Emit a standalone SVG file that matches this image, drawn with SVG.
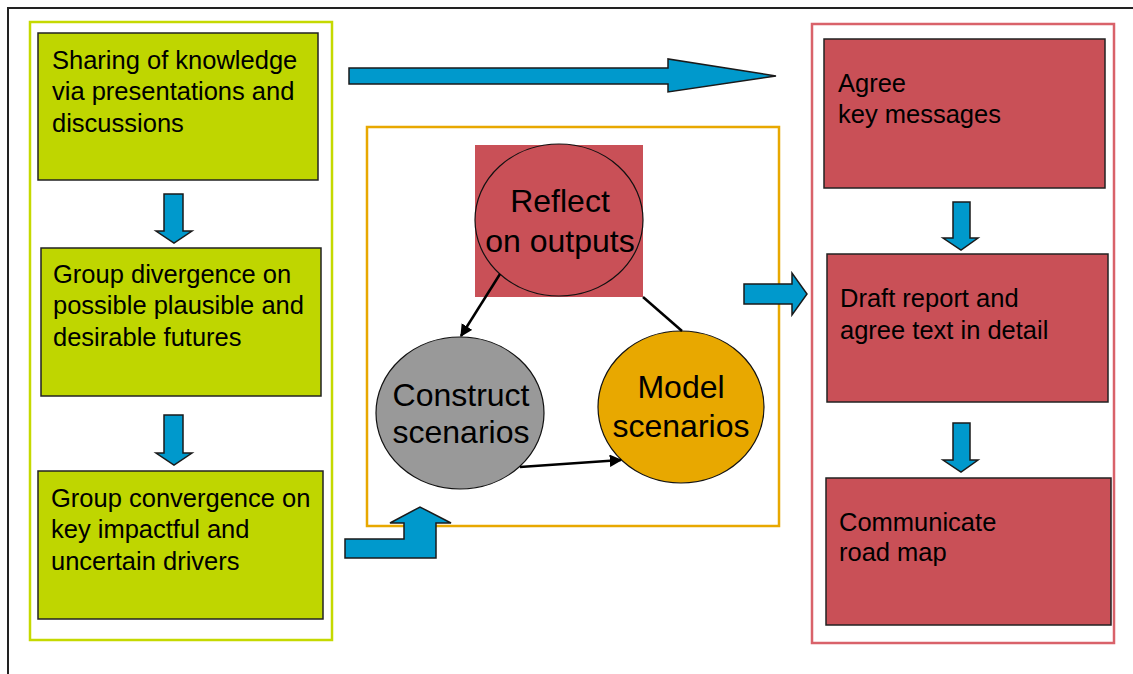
<svg xmlns="http://www.w3.org/2000/svg" width="1133" height="674" viewBox="0 0 1133 674">
  <style>
    .lbl { font-family: "Liberation Sans", Arial, sans-serif; font-size: 25.5px; fill: #000; }
    .big { font-family: "Liberation Sans", Arial, sans-serif; font-size: 32px; fill: #000; text-anchor: middle; }
    .green { fill: #bfd600; stroke: #222; stroke-width: 1.5; }
    .red { fill: #c95057; stroke: #222; stroke-width: 1.5; }
    .blue { fill: #0099cc; stroke: #1a1a1a; stroke-width: 1.5; stroke-linejoin: miter; }
    .frame { fill: none; stroke-width: 2.5; }
    .link { stroke: #000; stroke-width: 2.5; fill: none; }
    .oval { stroke: #111; stroke-width: 1.2; }
  </style>
  <defs>
    <marker id="head" viewBox="0 0 10 10" refX="9" refY="5" markerWidth="5" markerHeight="5" markerUnits="strokeWidth" orient="auto">
      <path d="M0,0 L10,5 L0,10 Z" fill="#000"/>
    </marker>
  </defs>

  <rect width="1133" height="674" fill="#fff"/>

  <!-- outer border (open at right and bottom) -->
  <path d="M8,674 V8 H1133" fill="none" stroke="#222" stroke-width="2"/>

  <!-- group frames -->
  <rect id="frame-left" class="frame" x="30" y="22" width="302" height="618" stroke="#c5d900"/>
  <rect id="frame-middle" class="frame" x="367" y="127" width="412" height="399" stroke="#e8a800"/>
  <rect id="frame-right" class="frame" x="812" y="24" width="302" height="619" stroke="#d9626a"/>

  <!-- left column -->
  <g id="node-sharing">
    <rect class="green" x="38" y="33" width="280" height="147"/>
    <text class="lbl" x="52" y="69">Sharing of knowledge</text>
    <text class="lbl" x="52" y="100">via presentations and</text>
    <text class="lbl" x="52" y="132">discussions</text>
  </g>
  <g id="node-divergence">
    <rect class="green" x="41" y="248" width="280" height="148"/>
    <text class="lbl" x="53" y="283">Group divergence on</text>
    <text class="lbl" x="53" y="314">possible plausible and</text>
    <text class="lbl" x="53" y="346">desirable futures</text>
  </g>
  <g id="node-convergence">
    <rect class="green" x="38" y="471" width="285" height="148"/>
    <text class="lbl" x="51" y="507">Group convergence on</text>
    <text class="lbl" x="51" y="538">key impactful and</text>
    <text class="lbl" x="51" y="570">uncertain drivers</text>
  </g>

  <!-- right column -->
  <g id="node-agree">
    <rect class="red" x="824" y="39" width="281" height="149"/>
    <text class="lbl" x="838" y="92">Agree</text>
    <text class="lbl" x="838" y="123">key messages</text>
  </g>
  <g id="node-draft">
    <rect class="red" x="827" y="254" width="281" height="148"/>
    <text class="lbl" x="840" y="307">Draft report and</text>
    <text class="lbl" x="840" y="339">agree text in detail</text>
  </g>
  <g id="node-communicate">
    <rect class="red" x="826" y="478" width="285" height="147"/>
    <text class="lbl" x="839" y="531">Communicate</text>
    <text class="lbl" x="839" y="561">road map</text>
  </g>

  <!-- scenario cycle -->
  <g id="node-reflect">
    <rect x="475" y="145" width="168" height="152" fill="#c95057"/>
    <ellipse class="oval" cx="559" cy="220" rx="84" ry="76" fill="#c95057"/>
    <text class="big" x="560" y="212">Reflect</text>
    <text class="big" x="560" y="252">on outputs</text>
  </g>
  <g id="node-construct">
    <ellipse class="oval" cx="460" cy="413" rx="84" ry="76" fill="#999999"/>
    <text class="big" x="461" y="406">Construct</text>
    <text class="big" x="461" y="443">scenarios</text>
  </g>
  <g id="node-model">
    <ellipse class="oval" cx="681" cy="407" rx="83" ry="76" fill="#e8a800"/>
    <text class="big" x="681" y="398">Model</text>
    <text class="big" x="681" y="437">scenarios</text>
  </g>

  <g id="connectors">
    <line class="link" x1="500" y1="274" x2="461" y2="336" marker-end="url(#head)"/>
    <line class="link" x1="643" y1="297" x2="682" y2="331"/>
    <line class="link" x1="520" y1="467" x2="621" y2="460" marker-end="url(#head)"/>

    <!-- block arrows -->
    <polygon class="blue" points="349,68 668,68 668,59 776,76 668,92 668,84 349,84"/>
    <polygon class="blue" points="164,194 183,194 183,231 192,231 174,243 156,231 164,231"/>
    <polygon class="blue" points="164,415 183,415 183,453 192,453 174,465 156,453 164,453"/>
    <polygon class="blue" points="953,202 970,202 970,238 978,238 961,250 943,238 953,238"/>
    <polygon class="blue" points="953,423 970,423 970,460 978,460 961,472 943,460 953,460"/>
    <polygon class="blue" points="744,284 792,284 792,273 807,294 792,315 792,304 744,304"/>
    <polygon class="blue" points="345,539 404,539 404,523 390,523 420,507 451,523 436,523 436,558 345,558"/>
  </g>
</svg>
